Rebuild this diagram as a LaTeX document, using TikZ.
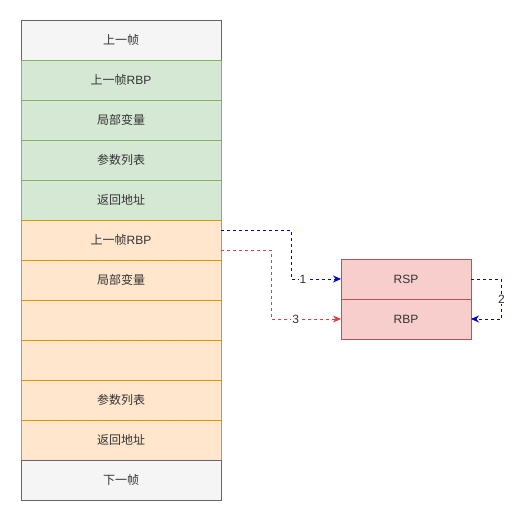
\documentclass[tikz,border=0pt]{standalone}
\usepackage{fontspec}
\setmainfont{Liberation Sans}
\newfontfamily\cjk{Noto Sans CJK SC}
\usetikzlibrary{arrows.meta}
\definecolor{greyfill}{HTML}{F5F5F5}
\definecolor{greyline}{HTML}{666666}
\definecolor{greenfill}{HTML}{D5E8D4}
\definecolor{greenline}{HTML}{82B366}
\definecolor{orangefill}{HTML}{FFE6CC}
\definecolor{orangeline}{HTML}{D79B00}
\definecolor{redfill}{HTML}{F8CECC}
\definecolor{redline}{HTML}{B85450}
\definecolor{txt}{HTML}{333333}
\definecolor{bluec}{HTML}{0000DD}
\definecolor{redc}{HTML}{EA3A3A}
\tikzset{
  cell/.style={minimum width=200pt,minimum height=40pt,inner sep=0pt,outer sep=0pt,line width=0.8pt,text=txt,font=\fontsize{12}{14}\selectfont},
  greycell/.style={cell,fill=greyfill,draw=greyline},
  greencell/.style={cell,fill=greenfill,draw=greenline},
  orangecell/.style={cell,fill=orangefill,draw=orangeline},
  regcell/.style={minimum width=130pt,minimum height=40pt,inner sep=0pt,outer sep=0pt,line width=0.8pt,text=txt,fill=redfill,draw=redline,font=\fontsize{12}{14}\selectfont},
  link/.style={dash pattern=on 3pt off 3pt,line width=1pt,-{Stealth[length=8pt,width=7pt]}},
  lab/.style={fill=white,inner sep=1pt,text=txt,font=\fontsize{12}{14}\selectfont}
}
\begin{document}
\begin{tikzpicture}[x=1pt,y=-1pt]
\useasboundingbox (0,0) rectangle (527,523);
\node[greycell] (r0) at (121,40) {\cjk 上一帧};
\node[greencell] (r1) at (121,80) {{\cjk 上一帧}RBP};
\node[greencell] (r2) at (121,120) {\cjk 局部变量};
\node[greencell] (r3) at (121,160) {\cjk 参数列表};
\node[greencell] (r4) at (121,200) {\cjk 返回地址};
\node[orangecell] (r5) at (121,240) {{\cjk 上一帧}RBP};
\node[orangecell] (r6) at (121,280) {\cjk 局部变量};
\node[orangecell] (r7) at (121,320) {};
\node[orangecell] (r8) at (121,360) {};
\node[orangecell] (r9) at (121,400) {\cjk 参数列表};
\node[orangecell] (r10) at (121,440) {\cjk 返回地址};
\node[greycell] (r11) at (121,480) {\cjk 下一帧};
\node[regcell] (rsp) at (406,279) {RSP};
\node[regcell] (rbp) at (406,319) {RBP};
\coordinate (b1) at ([yshift=10pt]r5.east);
\coordinate (b2) at ([yshift=-10pt]r5.east);
\draw[link,color=bluec] (b1) -| (291,279) -- node[lab,pos=0.24]{1} (rsp.west);
\draw[link,color=redc] (b2) -| (271.5,319) -- node[lab,pos=0.35]{3} (rbp.west);
\draw[link,color=bluec] (rsp.east) -- (501.5,279) -- node[lab]{2} (501.5,319) -- (rbp.east);
\end{tikzpicture}
\end{document}
